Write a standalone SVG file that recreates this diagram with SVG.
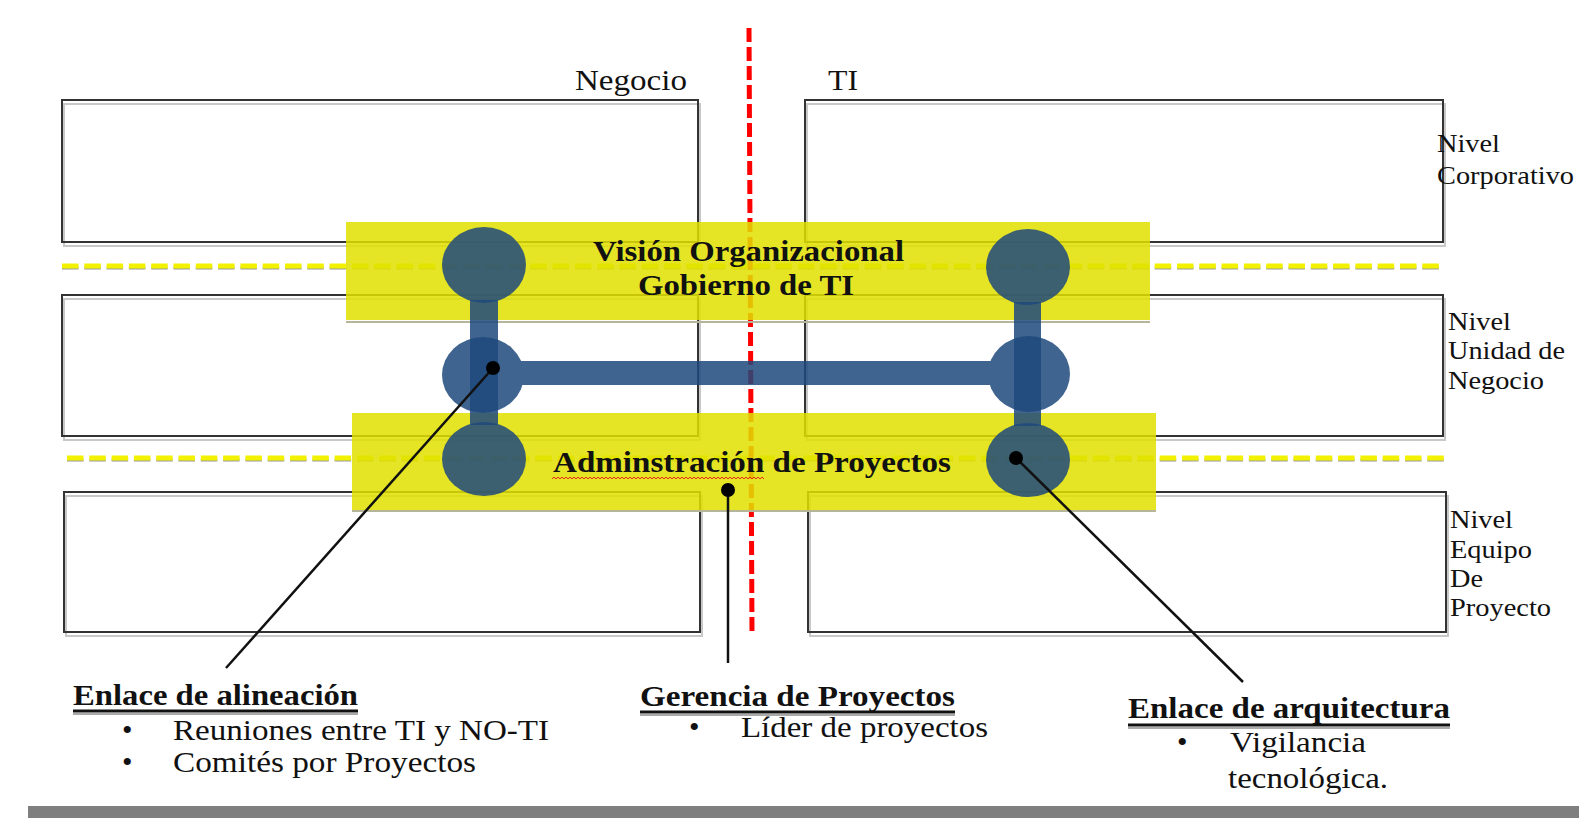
<svg xmlns="http://www.w3.org/2000/svg" width="1579" height="818" viewBox="0 0 1579 818">
<defs>
<style>
.box{fill:none;stroke:#333;stroke-width:2}
.boxsh{fill:none;stroke:#c8c8c8;stroke-width:2}
.ydash{stroke:#f2f200;stroke-width:5;stroke-dasharray:16.5 5.8;fill:none}
.ydashsh{stroke:#9a9a9a;stroke-width:3;stroke-dasharray:16.5 5.8;fill:none}
.band{fill:#e1e100;opacity:0.85}
.blue{fill:#1f497d}
.t{font-family:"Liberation Serif","Times New Roman",serif;font-size:30px;fill:#111}
.b{font-weight:bold}
.s{font-size:26px}
.ul{stroke:#111;stroke-width:3}
.ulsh{stroke:#aaa;stroke-width:2}
.conn{stroke:#111;stroke-width:2.5;fill:none}
</style>
<pattern id="wavy" x="0" y="0" width="4" height="4" patternUnits="userSpaceOnUse">
<path d="M0,3 L2,1 L4,3" fill="none" stroke="#e8261a" stroke-width="1"/>
</pattern>
</defs>
<rect width="1579" height="818" fill="#fff"/>

<g id="boxes">
<g id="box-negocio-corporativo">
<rect class="boxsh" x="64" y="104" width="636" height="142"/>
<rect class="box" x="62" y="100" width="636" height="142"/>
</g>
<g id="box-negocio-unidad">
<rect class="boxsh" x="64" y="299" width="636" height="141"/>
<rect class="box" x="62" y="295" width="636" height="141"/>
</g>
<g id="box-negocio-equipo">
<rect class="boxsh" x="66" y="496" width="636" height="140"/>
<rect class="box" x="64" y="492" width="636" height="140"/>
</g>
<g id="box-ti-corporativo">
<rect class="boxsh" x="807" y="104" width="638" height="142"/>
<rect class="box" x="805" y="100" width="638" height="142"/>
</g>
<g id="box-ti-unidad">
<rect class="boxsh" x="807" y="299" width="638" height="141"/>
<rect class="box" x="805" y="295" width="638" height="141"/>
</g>
<g id="box-ti-equipo">
<rect class="boxsh" x="810" y="496" width="638" height="140"/>
<rect class="box" x="808" y="492" width="638" height="140"/>
</g>
</g>

<g id="level-separators">
<line class="ydashsh" x1="62" y1="268" x2="1443" y2="268"/>
<line class="ydash" x1="62" y1="266" x2="1443" y2="266"/>
<line class="ydashsh" x1="67" y1="460" x2="1449" y2="460"/>
<line class="ydash" x1="67" y1="458" x2="1449" y2="458"/>
</g>

<g id="divider">
<line x1="749" y1="28" x2="752" y2="632" stroke="#ff0000" stroke-width="5" stroke-dasharray="14 5"/>
</g>

<g id="column-labels">
<text class="t" x="575" y="90" textLength="112" lengthAdjust="spacingAndGlyphs">Negocio</text>
<text class="t" x="828" y="90" textLength="30" lengthAdjust="spacingAndGlyphs">TI</text>
</g>

<g id="level-labels">
<text class="t s" x="1437" y="152" textLength="63" lengthAdjust="spacingAndGlyphs">Nivel</text>
<text class="t s" x="1437" y="184" textLength="137" lengthAdjust="spacingAndGlyphs">Corporativo</text>
<text class="t s" x="1448" y="330" textLength="63" lengthAdjust="spacingAndGlyphs">Nivel</text>
<text class="t s" x="1448" y="359" textLength="117" lengthAdjust="spacingAndGlyphs">Unidad de</text>
<text class="t s" x="1448" y="389" textLength="96" lengthAdjust="spacingAndGlyphs">Negocio</text>
<text class="t s" x="1450" y="528" textLength="63" lengthAdjust="spacingAndGlyphs">Nivel</text>
<text class="t s" x="1450" y="558" textLength="82" lengthAdjust="spacingAndGlyphs">Equipo</text>
<text class="t s" x="1450" y="587" textLength="33" lengthAdjust="spacingAndGlyphs">De</text>
<text class="t s" x="1450" y="616" textLength="101" lengthAdjust="spacingAndGlyphs">Proyecto</text>
</g>

<g id="band-vision">
<rect x="346" y="321" width="804" height="2" fill="#b5b59a"/>
<rect class="band" x="346" y="222" width="804" height="98"/>
</g>
<g id="band-proyectos">
<rect x="352" y="510" width="804" height="2" fill="#b5b59a"/>
<rect class="band" x="352" y="413" width="804" height="97"/>
</g>

<g id="links" opacity="0.85">
<g id="link-negocio">
<ellipse class="blue" cx="484" cy="265" rx="42" ry="38"/>
<ellipse class="blue" cx="484" cy="459" rx="42" ry="37"/>
</g>
<g id="link-ti">
<ellipse class="blue" cx="1028" cy="267" rx="42" ry="38"/>
<ellipse class="blue" cx="1028" cy="460" rx="42" ry="37"/>
</g>
<g id="link-unidad">
<ellipse class="blue" cx="483" cy="375" rx="41" ry="38"/>
<ellipse class="blue" cx="1029" cy="374" rx="41" ry="38"/>
<rect class="blue" x="500" y="361" width="510" height="24"/>
</g>
</g>
<g id="vertical-links" opacity="0.85">
<rect class="blue" x="470" y="300" width="28" height="125"/>
<rect class="blue" x="1014" y="302" width="27" height="124"/>
</g>

<g id="band-texts">
<text class="t b" x="593" y="261" textLength="311" lengthAdjust="spacingAndGlyphs">Visión Organizacional</text>
<text class="t b" x="638" y="295" textLength="216" lengthAdjust="spacingAndGlyphs">Gobierno de TI</text>
<text class="t b" x="553" y="472" textLength="398" lengthAdjust="spacingAndGlyphs">Adminstración de Proyectos</text>
<rect x="552" y="475" width="212" height="4" fill="url(#wavy)"/>
</g>

<g id="connectors">
<line class="conn" x1="493" y1="368" x2="226" y2="668"/>
<circle cx="493" cy="368" r="7" fill="#000"/>
<line class="conn" x1="728" y1="490" x2="728" y2="663"/>
<circle cx="728" cy="490" r="7" fill="#000"/>
<line class="conn" x1="1016" y1="458" x2="1243" y2="682"/>
<circle cx="1016" cy="458" r="7" fill="#000"/>
</g>

<g id="note-alineacion">
<text class="t b" x="73" y="705" textLength="285" lengthAdjust="spacingAndGlyphs">Enlace de alineación</text>
<line class="ulsh" x1="73" y1="714" x2="358" y2="714"/>
<line class="ul" x1="73" y1="711" x2="358" y2="711"/>
<text class="t" x="122" y="740">•</text>
<text class="t" x="173" y="740" textLength="376" lengthAdjust="spacingAndGlyphs">Reuniones entre TI y NO-TI</text>
<text class="t" x="122" y="772">•</text>
<text class="t" x="173" y="772" textLength="303" lengthAdjust="spacingAndGlyphs">Comités por Proyectos</text>
</g>

<g id="note-gerencia">
<text class="t b" x="640" y="706" textLength="315" lengthAdjust="spacingAndGlyphs">Gerencia de Proyectos</text>
<line class="ulsh" x1="640" y1="715" x2="955" y2="715"/>
<line class="ul" x1="640" y1="712" x2="955" y2="712"/>
<text class="t" x="689" y="737">•</text>
<text class="t" x="741" y="737" textLength="247" lengthAdjust="spacingAndGlyphs">Líder de proyectos</text>
</g>

<g id="note-arquitectura">
<text class="t b" x="1128" y="718" textLength="322" lengthAdjust="spacingAndGlyphs">Enlace de arquitectura</text>
<line class="ulsh" x1="1128" y1="728" x2="1450" y2="728"/>
<line class="ul" x1="1128" y1="725" x2="1450" y2="725"/>
<text class="t" x="1177" y="752">•</text>
<text class="t" x="1230" y="752" textLength="136" lengthAdjust="spacingAndGlyphs">Vigilancia</text>
<text class="t" x="1228" y="788" textLength="160" lengthAdjust="spacingAndGlyphs">tecnológica.</text>
</g>

<rect id="footer-bar" x="28" y="806" width="1551" height="12" fill="#7f7f7f"/>
</svg>
